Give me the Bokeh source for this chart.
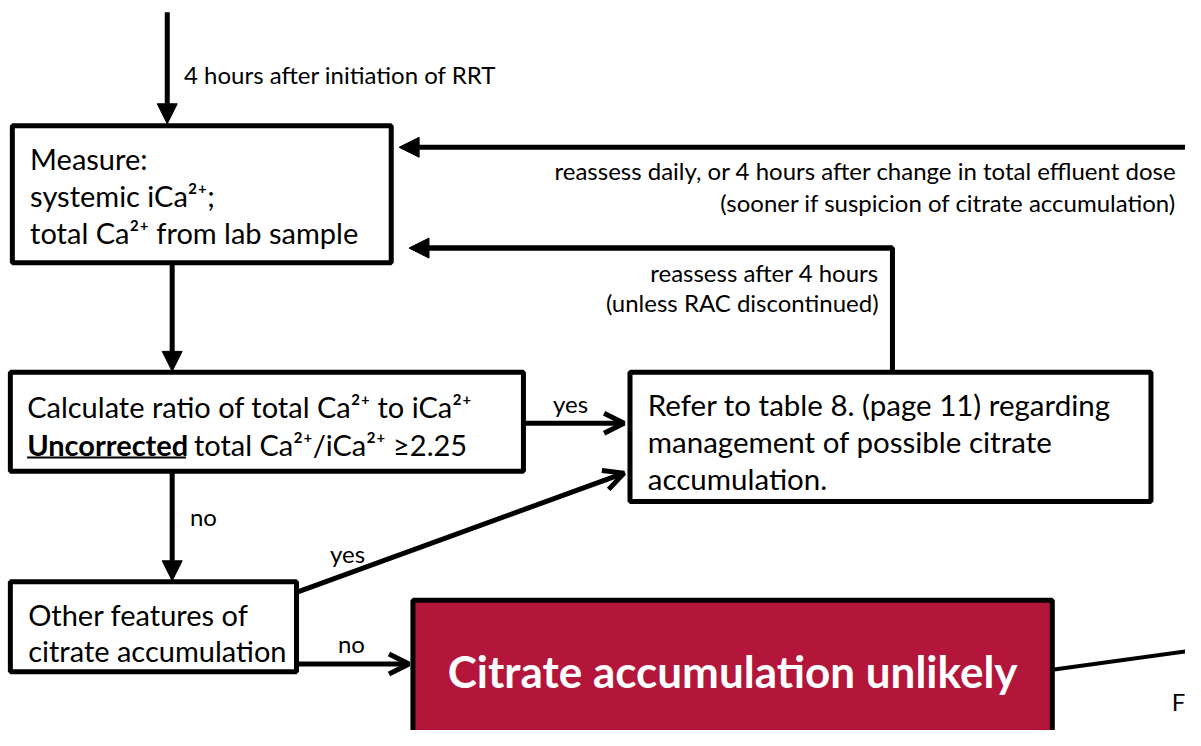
from bokeh.plotting import figure
from bokeh.models import Range1d, Arrow, NormalHead, OpenHead
from bokeh.core.properties import value
from bokeh.embed import file_html
from bokeh.resources import INLINE

# ---------------- content (texts) ----------------
measure_lines = ["Measure:", "systemic iCa²⁺;", "total Ca²⁺ from lab sample"]
ratio_lines = ["Calculate ratio of total Ca²⁺ to iCa²⁺"]
ratio_bold = "Uncorrected"
ratio_rest = "total Ca²⁺/iCa²⁺ ≥2.25"
refer_lines = ["Refer to table 8. (page 11) regarding",
               "management of possible citrate",
               "accumulation."]
other_lines = ["Other features of", "citrate accumulation"]
outcome_text = "Citrate accumulation unlikely"
start_label = "4 hours after initiation of RRT"
daily_labels = ["reassess daily, or 4 hours after change in total effluent dose",
                "(sooner if suspicion of citrate accumulation)"]
after4_labels = ["reassess after 4 hours", "(unless RAC discontinued)"]
branch_labels = ["yes", "no", "yes", "no"]
cut_label = "F"

# ---------------- layout (reference page coordinates) ----------------
box_left = [12, 10, 638, 10, 418]
box_right = [396, 530, 1166, 300, 1066]
box_top = [128, 380, 380, 594, 613]
box_bottom = [268, 481, 512, 686, 770]
box_fill = ["white", "white", "white", "white", "#B3153B"]

FONT = value("Lato")

p = figure(width=1185, height=730, output_backend="svg", toolbar_location=None,
           x_range=Range1d(0, 1201), y_range=Range1d(746, 0),
           min_border=0, outline_line_color=None)
p.axis.visible = False
p.grid.visible = False
p.background_fill_color = "white"
p.border_fill_color = "white"

# boxes
p.quad(left=box_left, right=box_right, top=box_top, bottom=box_bottom,
       fill_color=box_fill, line_color="black", line_width=5)

def txt(xs, ys, texts, size, align="left", color="black", style="normal"):
    p.text(x=xs, y=ys, text=texts, text_font=FONT, text_font_size=size,
           text_align=align, text_baseline="middle", text_color=color,
           text_font_style=style)

# box texts
txt([30] * 3, [161, 199, 237], measure_lines, "29px")
txt([27], [415], ratio_lines, "29px")
txt([27], [454], [ratio_bold], "29px", style="bold")
txt([196], [454], [ratio_rest], "29px")
p.line([27, 188], [467, 467], line_color="black", line_width=2)
txt([656] * 3, [413, 451, 488], refer_lines, "29.5px")
txt([28] * 2, [627, 664], other_lines, "29px")
txt([742], [685], [outcome_text], "44px", align="center", color="white", style="bold")

# edge labels
txt([186], [76], [start_label], "24px")
txt([1192, 1192], [174, 206], daily_labels, "24px", align="right")
txt([890, 890], [278, 309], after4_labels, "24px", align="right")
txt([560, 192, 334, 342], [412, 527, 565, 657], branch_labels, "24px")
txt([1187], [716], [cut_label], "24px")

# connectors
def solid_arrow(x0, y0, x1, y1):
    p.add_layout(Arrow(end=NormalHead(size=20, fill_color="black", line_color="black"),
                       x_start=x0, y_start=y0, x_end=x1, y_end=y1,
                       line_width=5, line_color="black"))

def open_arrow(x0, y0, x1, y1):
    p.add_layout(Arrow(end=OpenHead(size=20, line_width=5, line_color="black"),
                       x_start=x0, y_start=y0, x_end=x1, y_end=y1,
                       line_width=5, line_color="black"))

solid_arrow(169, 12, 169, 126)
solid_arrow(1210, 150, 404, 150)
p.line([904, 904, 430], [378, 253, 253], line_color="black", line_width=5)
solid_arrow(904, 253, 414, 253)
solid_arrow(174, 268, 174, 379)
solid_arrow(174, 481, 174, 593)
open_arrow(530, 432, 632, 432)
open_arrow(302, 604, 632, 483)
open_arrow(300, 678, 414, 678)
p.line([1066, 1210], [684, 664], line_color="black", line_width=4)

open("out.html", "w").write(file_html(p, INLINE))
